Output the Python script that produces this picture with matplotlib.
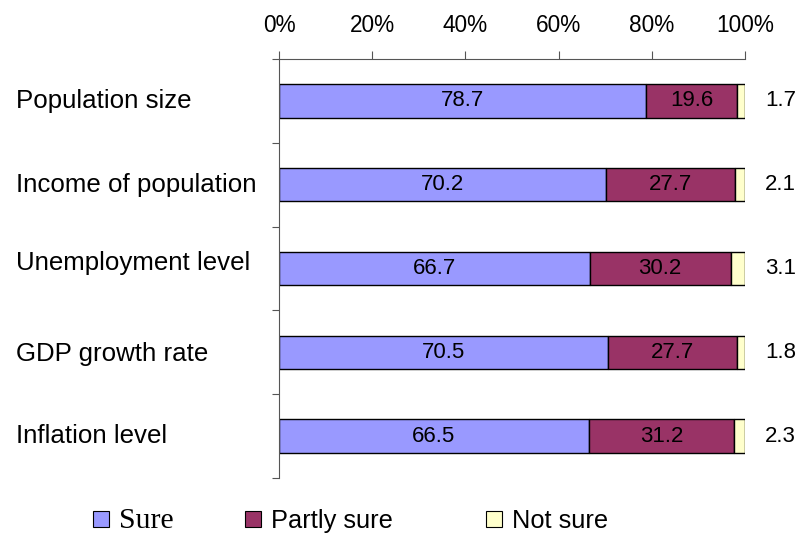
import numpy as np
import matplotlib
matplotlib.use('Agg')
import matplotlib.pyplot as plt
from matplotlib.patches import Patch
from matplotlib.transforms import blended_transform_factory, offset_copy

categories = ['Population size', 'Income of population', 'Unemployment level',
              'GDP growth rate', 'Inflation level']
sure = [78.7, 70.2, 66.7, 70.5, 66.5]
partly = [19.6, 27.7, 30.2, 27.7, 31.2]
not_sure = [1.7, 2.1, 3.1, 1.8, 2.3]
series_names = ['Sure', 'Partly sure', 'Not sure']
colors = ['#9999FF', '#993366', '#FFFFCC']

plt.rcParams['font.family'] = ['Liberation Sans', 'DejaVu Sans']

fig = plt.figure(figsize=(8.04, 5.36), dpi=100)
ax = fig.add_axes([279 / 804, 1 - 478 / 536, (745 - 279) / 804, (478 - 59) / 536])

y = np.arange(len(categories))
sure = np.array(sure)
partly = np.array(partly)
not_sure = np.array(not_sure)
h = 0.4
ax.barh(y, sure, height=h, color=colors[0], edgecolor='black', linewidth=1)
ax.barh(y, partly, left=sure, height=h, color=colors[1], edgecolor='black', linewidth=1)
ax.barh(y, not_sure, left=sure + partly, height=h, color=colors[2], edgecolor='black', linewidth=1)

for i in range(len(categories)):
    ax.text(sure[i] / 2, y[i], f'{sure[i]:.1f}', ha='center', va='center', fontsize=16)
    ax.text(sure[i] + partly[i] / 2, y[i], f'{partly[i]:.1f}', ha='center', va='center', fontsize=16)
    ax.text(104.3, y[i], f'{not_sure[i]:.1f}', ha='left', va='center', fontsize=16)

ax.set_xlim(0, 100)
ax.set_ylim(len(categories) - 0.5, -0.5)
ax.xaxis.tick_top()
ax.set_xticks(np.arange(0, 101, 20))
ax.set_xticklabels([f'{v}%' for v in range(0, 101, 20)], fontsize=16.3)
ax.tick_params(axis='x', direction='out', length=6, pad=10, color='#555555')
ax.set_yticks(np.arange(-0.5, len(categories), 1))
ax.set_yticklabels([])
ax.tick_params(axis='y', direction='out', length=5, color='#555555')

for s in ['right', 'bottom']:
    ax.spines[s].set_visible(False)
for s in ['left', 'top']:
    ax.spines[s].set_color('#555555')

# category names, left aligned near the figure edge
trans = blended_transform_factory(fig.transFigure, ax.transData)
nudge = [0, 0, 4, -1, 0]
for i, c in enumerate(categories):
    t = offset_copy(trans, fig=fig, y=nudge[i], units='points')
    ax.text(16 / 804, y[i], c, transform=t, ha='left', va='center', fontsize=18.6)

# legend, one entry at a time
leg_x = [93, 245, 486]
for k in range(3):
    lg = fig.legend(handles=[Patch(facecolor=colors[k], edgecolor='black', linewidth=0.8)],
                    labels=[series_names[k]], loc='center left',
                    bbox_to_anchor=(leg_x[k] / 804, 1 - 521 / 536), frameon=False,
                    fontsize=18.3, handlelength=0.62, handleheight=0.62, handletextpad=0.4,
                    borderpad=0, borderaxespad=0)
    if k == 0:
        lg.get_texts()[0].set_fontfamily('Liberation Serif')
        lg.get_texts()[0].set_fontsize(21.5)

fig.savefig('out.png', dpi=100)
